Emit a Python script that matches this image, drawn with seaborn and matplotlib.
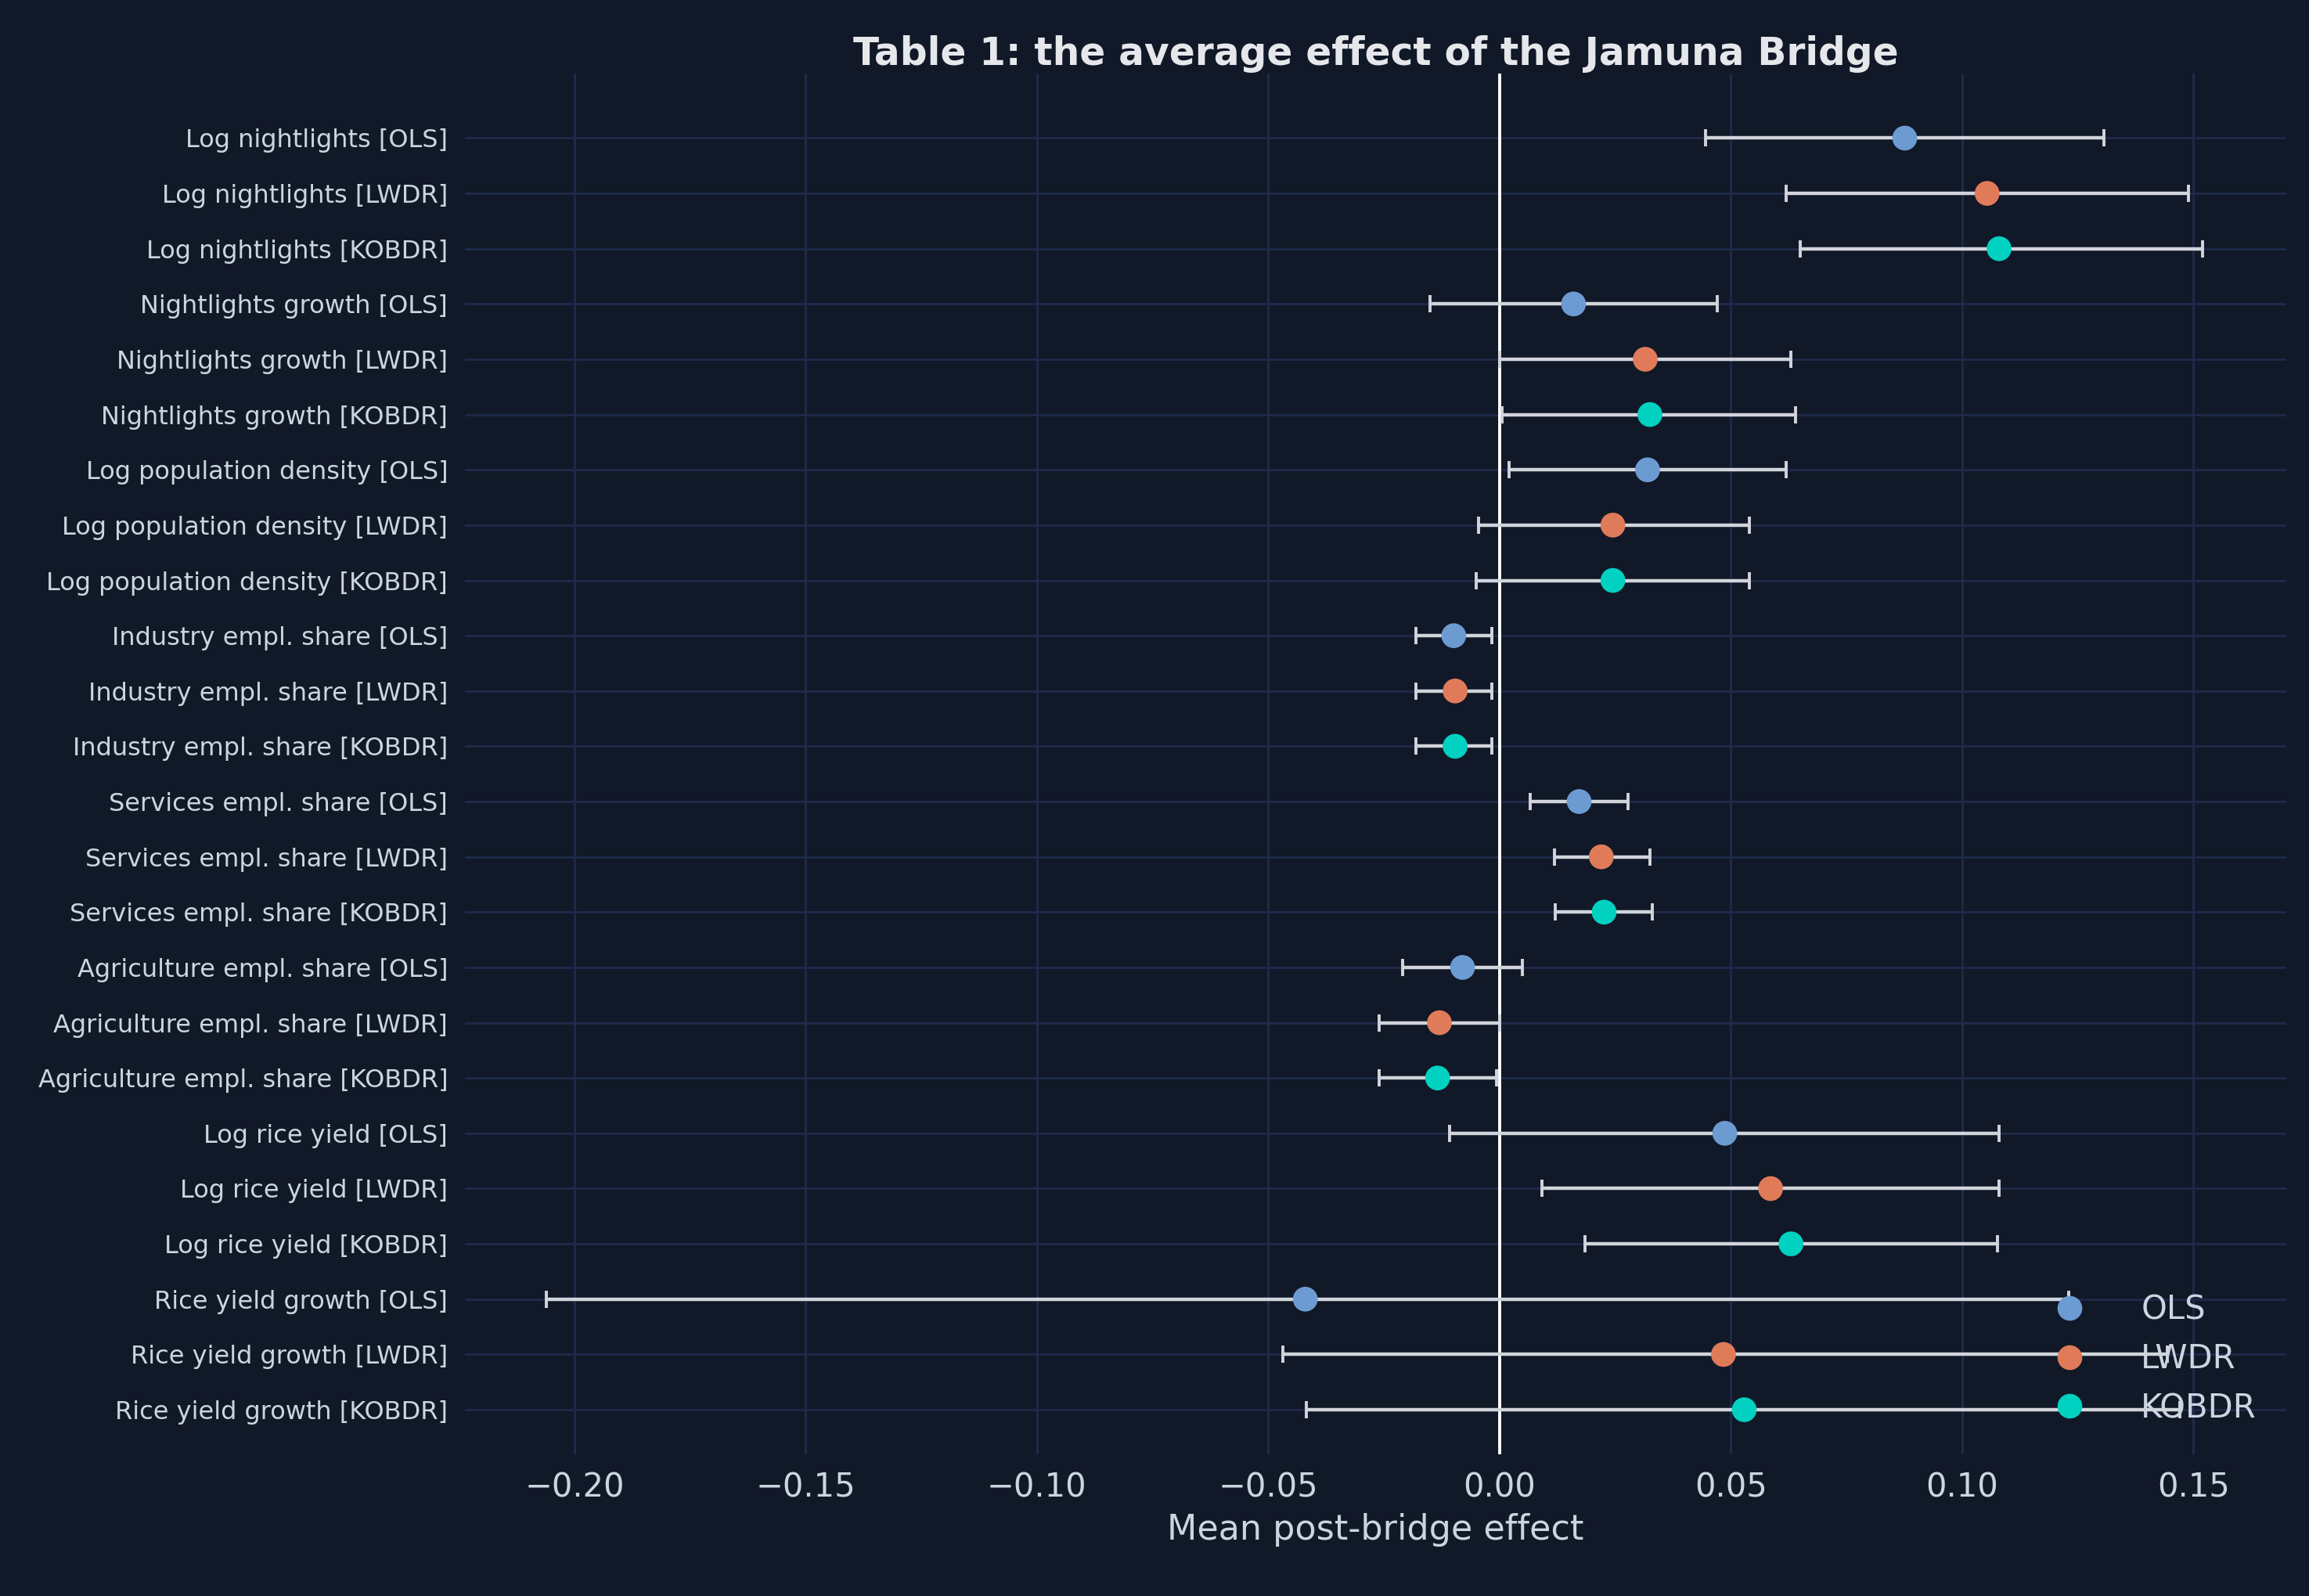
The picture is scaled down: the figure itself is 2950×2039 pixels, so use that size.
import numpy as np
import pandas as pd
import matplotlib
matplotlib.use("Agg")
import matplotlib.pyplot as plt
import seaborn as sns

outcomes = ["Log nightlights", "Nightlights growth", "Log population density",
            "Industry empl. share", "Services empl. share", "Agriculture empl. share",
            "Log rice yield", "Rice yield growth"]
methods = ["OLS", "LWDR", "KOBDR"]

estimates = [0.0876, 0.1054, 0.108, 0.016, 0.0315, 0.0325, 0.032, 0.0245, 0.0245,
             -0.0099, -0.0096, -0.0096, 0.0172, 0.022, 0.0226, -0.008, -0.013, -0.0134,
             0.0487, 0.0586, 0.063, -0.042, 0.0484, 0.0529]
ci_low = [0.0446, 0.062, 0.065, -0.015, 0.0, 0.0006, 0.002, -0.0045, -0.005,
          -0.018, -0.018, -0.018, 0.0067, 0.0118, 0.012, -0.021, -0.026, -0.026,
          -0.0108, 0.0092, 0.0185, -0.206, -0.0468, -0.0417]
ci_high = [0.1306, 0.149, 0.152, 0.047, 0.063, 0.064, 0.062, 0.054, 0.054,
           -0.0016, -0.0016, -0.0016, 0.0277, 0.0325, 0.033, 0.005, 0.0, -0.0006,
           0.108, 0.108, 0.1076, 0.123, 0.1443, 0.147]

labels = [f"{o} [{m}]" for o in outcomes for m in methods]
df = pd.DataFrame({"label": labels, "est": estimates, "lo": ci_low, "hi": ci_high,
                   "method": [m for o in outcomes for m in methods]})
df["y"] = np.arange(len(df))

bg = "#111827"
fg = "#e5e7eb"
palette = {"OLS": "#6c9bd2", "LWDR": "#e07b5a", "KOBDR": "#00d1c1"}

fig = plt.figure(figsize=(14.75, 10.195), dpi=200, facecolor=bg)
ax = fig.add_axes([0.2015, 0.089, 0.7885, 0.865])
ax.set_facecolor(bg)

ax.errorbar(df["est"], df["y"], xerr=[df["est"] - df["lo"], df["hi"] - df["est"]],
            fmt="none", ecolor="#d1d5db", elinewidth=1.6, capsize=4, capthick=1.4, zorder=2)
ax.axvline(0, color="white", lw=1.4, zorder=1)
sns.scatterplot(data=df, x="est", y="y", hue="method", palette=palette, s=130,
                edgecolor="none", ax=ax, zorder=3)

ax.set_yticks(df["y"])
ax.set_yticklabels(df["label"], fontsize=11.5, color="#cbd5e1")
ax.set_ylim(len(df) - 0.2, -1.17)
ax.set_xlim(-0.2236, 0.170)
ax.set_xticks([-0.20, -0.15, -0.10, -0.05, 0.0, 0.05, 0.10, 0.15])
ax.set_xticklabels([f"{v:.2f}".replace("-", "\u2212") for v in ax.get_xticks()],
                   fontsize=15, color="#cbd5e1")
ax.grid(True, color="#1e2a4a", lw=1)
ax.set_axisbelow(True)
for s in ax.spines.values():
    s.set_visible(False)
ax.tick_params(length=0, pad=8)
ax.set_xlabel("Mean post-bridge effect", fontsize=16, color="#cbd5e1")
ax.set_ylabel("")
ax.set_title("Table 1: the average effect of the Jamuna Bridge", fontsize=17.5,
             fontweight="bold", color=fg, pad=4)

leg = ax.legend(loc="lower right", frameon=False, fontsize=15, labelcolor="#cbd5e1",
                markerscale=1.0, handletextpad=1.2, labelspacing=0.5,
                bbox_to_anchor=(1.0, 0.0))

fig.savefig("out.png", dpi=200, facecolor=bg)
